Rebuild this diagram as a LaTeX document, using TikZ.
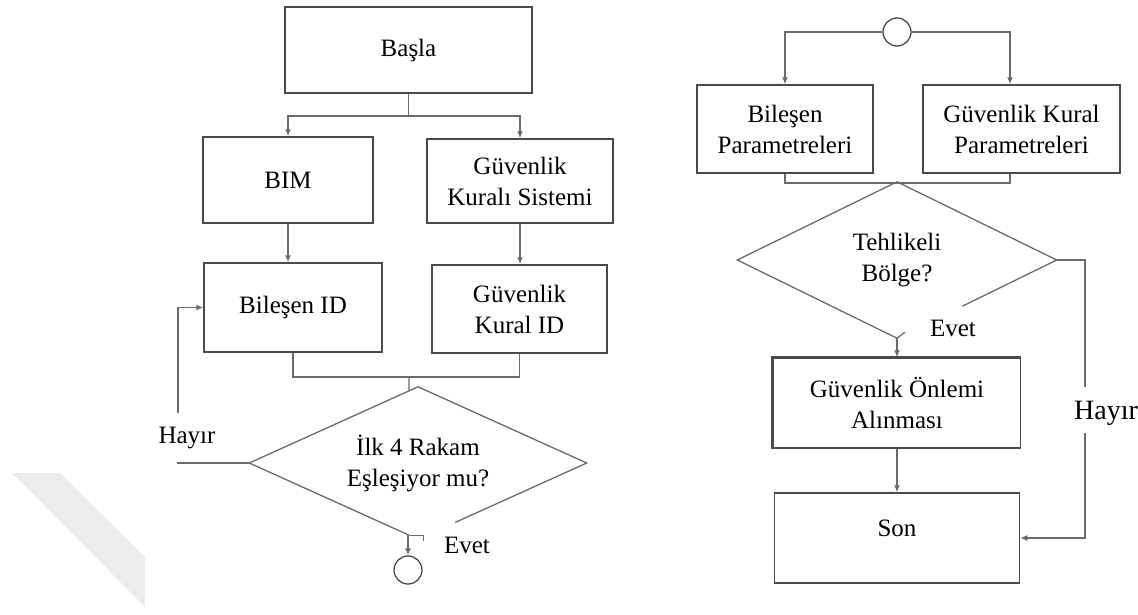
\documentclass[tikz,border=0pt]{standalone}
\usepackage{fontspec}
\setmainfont{Liberation Serif}
\usetikzlibrary{arrows.meta,calc}
\definecolor{boxline}{HTML}{4A4A4A}
\definecolor{wireline}{HTML}{6A6A6A}
\definecolor{markfill}{HTML}{ECECEC}
\begin{document}
\begin{tikzpicture}[x=1pt,y=-1pt,
  every node/.style={font=\fontsize{25}{31}\selectfont, text=black},
  box/.style={draw=boxline, line width=1.5pt, rectangle, inner sep=0pt, align=center},
  decision/.style={draw=none, rectangle, inner sep=0pt, align=center},
  wire/.style={draw=wireline, line width=1.3pt},
  arr/.style={wire, -{Latex[length=7pt,width=6pt]}},
  ring/.style={draw=boxline, line width=1.3pt, circle, minimum size=28pt, inner sep=0pt},
  tag/.style={inner sep=1pt}]
\useasboundingbox (0,0) rectangle (1138,614);

% faint diagonal band in the lower left corner
\fill[markfill] (12,473) -- (60,473) -- (145,557) -- (145,607) -- cycle;

% ---------- left flow ----------
\node[box, minimum width=247pt, minimum height=86pt] (basla) at (408.5,50) {Başla};
\node[box, minimum width=170pt, minimum height=86pt] (bim) at (288,180) {BIM};
\node[box, minimum width=186pt, minimum height=84pt] (gks) at (520,181) {Güvenlik\\Kuralı Sistemi};
\node[box, minimum width=178pt, minimum height=89pt] (bid) at (293,307.5) {Bileşen ID};
\node[box, minimum width=175pt, minimum height=88pt] (gkid) at (519.5,309) {Güvenlik\\Kural ID};
\node[decision, minimum width=337pt, minimum height=152pt] (d1) at (418,463) {İlk 4 Rakam\\Eşleşiyor mu?};
\node[ring] (c1) at (408,570) {};

\coordinate (s1) at (408.5,116);
\draw[wire] (basla.south) -- (s1);
\draw[arr] (s1) -| (bim.north);
\draw[arr] (s1) -| (gks.north);
\draw[arr] (bim.south) -- (bim.south |- bid.north);
\draw[arr] (gks.south) -- (gks.south |- gkid.north);

\coordinate (m1) at (409,377);
\coordinate (m1b) at (409,463);
\draw[wire] (bid.south) |- (m1) -| (gkid.south);
\draw[wire] (m1) -- (intersection of m1--m1b and d1.north--d1.west);

% decision outline, open at the bottom
\draw[wire] ($(d1.west)!0.95!(d1.south)$) coordinate (e1)
  -- (d1.west) -- (d1.north) -- (d1.east) -- ($(d1.east)!0.78!(d1.south)$);
\draw[wire] (e1) -- ++(14,0) -- ++(0,6);
\draw[arr] (c1.north |- e1) -- (c1.north);
\node[tag] (evet1) at (467,545) {Evet};

% loop back on "Hayır"
\coordinate (h1) at (177,463);
\coordinate (h2) at (178,413);
\draw[wire] (d1.west) -- (h1);
\node[tag] (hayir1) at (187,438) {Hayır};
\draw[arr] (h2) |- (bid.west);

% ---------- right flow ----------
\node[ring] (c2) at (897,32) {};
\node[box, minimum width=176pt, minimum height=88pt] (bp) at (785,129) {Bileşen\\Parametreleri};
\node[box, minimum width=197pt, minimum height=88pt] (gkp) at (1021.5,129) {Güvenlik Kural\\Parametreleri};
\node[decision, minimum width=319pt, minimum height=156pt] (d2) at (897,260) {Tehlikeli\\Bölge?};
\node[box, minimum width=247pt, minimum height=90pt] (gon) at (897,403) {Güvenlik Önlemi\\Alınması};
\node[box, minimum width=245pt, minimum height=90pt, text depth=20pt] (son) at (897,538) {Son};

\coordinate (t2) at (1010,32);
\draw[arr] (c2.west) -| (bp.north);
\draw[arr] (c2.east) -- (t2) -- (t2 |- gkp.north);

\coordinate (m2) at (897,183);
\draw[wire] (bp.south) |- (m2) -| (t2 |- gkp.south);

\draw[wire] (d2.south) -- (d2.west) -- (d2.north) -- (d2.east) -- ($(d2.east)!0.59!(d2.south)$);
\draw[wire] (d2.south) -- ++(8,-6);
\node[tag] (evet2) at (953,328) {Evet};
\draw[arr] (d2.south) -- (gon.north);
\draw[boxline, line width=2.6pt] (gon.south west) -- (gon.north west) -- (gon.north east);
\draw[arr] (gon.south) -- (son.north);

% "Hayır" branch down to the end box; the label runs past the right edge
\coordinate (r2) at (1085,387);
\coordinate (r3) at (1085,433);
\draw[wire] (d2.east) -| (r2);
\node[inner sep=0pt, anchor=west, font=\fontsize{28}{32}\selectfont] (hayir2) at (1074,413) {Hayır};
\draw[arr] (r3) |- (son.east);
\end{tikzpicture}
\end{document}
